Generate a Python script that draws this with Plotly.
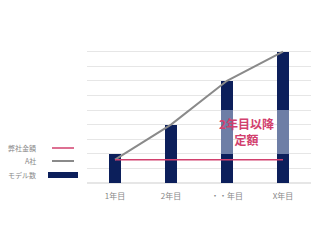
import plotly.graph_objects as go

categories = ["1年目", "2年目", "・・年目", "X年目"]
model_dark_low = [2, 4, 2, 2]
model_light_mid = [0, 0, 3, 3]
model_dark_top = [0, 0, 2, 4]
competitor_a = [1.6, 4, 7, 9]
our_price = [1.6, 1.6, 1.6, 1.6]

NAVY = "#0c1f5b"
LIGHT = "#6e7ea6"
RED = "#d2406e"
GRAY = "#8a8a8a"
FONT = "Noto Sans CJK JP"

L, R, T, B = 87, 9, 37, 57
PW, PH = 320 - L - R, 240 - T - B

fig = go.Figure()
fig.add_trace(go.Bar(x=categories, y=model_dark_low, marker_color=NAVY, width=0.2, marker_line_width=0))
fig.add_trace(go.Bar(x=categories, y=model_light_mid, marker_color=LIGHT, width=0.2, marker_line_width=0))
fig.add_trace(go.Bar(x=categories, y=model_dark_top, marker_color=NAVY, width=0.2, marker_line_width=0))
fig.add_trace(go.Scatter(x=categories, y=competitor_a, mode="lines", line=dict(color=GRAY, width=2)))
fig.add_trace(go.Scatter(x=categories, y=our_price, mode="lines", line=dict(color=RED, width=1.5)))

fig.update_layout(
    barmode="stack",
    width=320, height=240,
    margin=dict(l=L, r=R, t=T, b=B),
    paper_bgcolor="white", plot_bgcolor="white",
    showlegend=False,
    font=dict(family=FONT, size=8, color="#888888"),
    xaxis=dict(showgrid=False, showline=False, ticks="", tickfont=dict(size=8, color="#888888"),
               range=[-0.5, 3.5], ticklabelstandoff=7),
    yaxis=dict(range=[0, 10], dtick=1, showticklabels=False, gridcolor="#e6e6e6", gridwidth=1,
               zeroline=True, zerolinecolor="#e6e6e6", showline=False, ticks=""),
)

fig.add_annotation(x=2.35, y=3.5, xref="x", yref="y", text="<b>2年目以降<br>定額</b>", showarrow=False,
                   font=dict(family=FONT, size=12, color=RED), align="center")

legend_items = [("弊社金額", 148, "line", RED), ("A社", 161, "line", GRAY), ("モデル数", 175, "box", NAVY)]
for label, ypx, kind, col in legend_items:
    fig.add_annotation(x=(38 - L) / PW, y=(240 - ypx - B) / PH, xref="paper", yref="paper", text=label,
                       showarrow=False, xanchor="right", yanchor="middle",
                       font=dict(family=FONT, size=7, color="#888888"))
    y0 = (240 - ypx - B) / PH
    if kind == "line":
        fig.add_shape(type="line", xref="paper", yref="paper", x0=(52 - L) / PW, x1=(74 - L) / PW,
                      y0=y0, y1=y0, line=dict(color=col, width=1.5 if col == RED else 2))
    else:
        fig.add_shape(type="rect", xref="paper", yref="paper", x0=(48 - L) / PW, x1=(78 - L) / PW,
                      y0=y0 - 3 / PH, y1=y0 + 3 / PH, fillcolor=col, line=dict(width=0))

fig.write_html("out.html")
